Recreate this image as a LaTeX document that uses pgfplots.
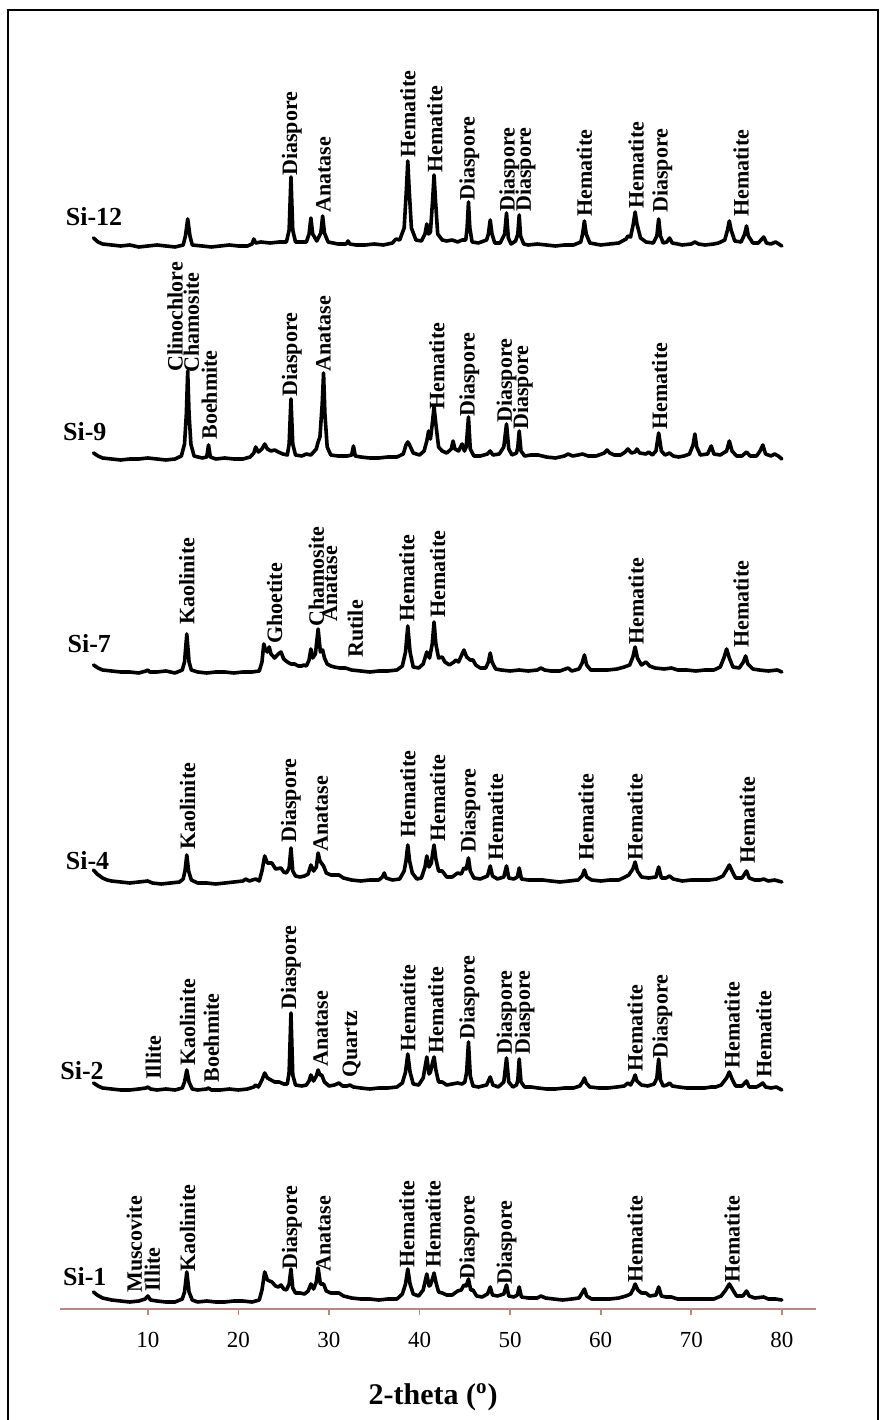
\documentclass[border=0pt]{standalone}
\usepackage{fontspec}
\setmainfont{Liberation Serif}
\usepackage{pgfplots}
\usepackage{pgfplotstable}
\pgfplotsset{compat=1.18}
\definecolor{axiscol}{RGB}{185,135,125}
\tikzset{
  lbl/.style={rotate=90, anchor=west, inner sep=0pt, font=\bfseries\fontsize{11}{11}\selectfont},
  sname/.style={anchor=west, inner sep=0pt, font=\bfseries\fontsize{13}{13}\selectfont},
  xrd/.style={black, line width=1.8pt, line join=round, line cap=round, mark=none},
}

\pgfplotstableread{
x y
4.0 8
4.5 4
5.0 2
6 1
7 0
8 1
9 -1
10 0
11 1
12 0
13 -1
13.9 1
14.15 10
14.4 27
14.65 10
14.9 1
16 0
17 -1
18 0
19 1
20 0
21 0
21.5 2
21.7 7
21.9 3
22.5 4
23.5 3
24.5 4
25.3 4
25.6 16
25.8 69
26.0 16
26.3 4
27.5 4
27.8 12
28.0 28
28.2 12
28.65 5
29.1 13
29.3 30
29.5 13
29.9 4
31 2
31.9 2
32.1 5
32.3 2
33 1
34 1
35 2
36 1
37 3
37.4 7
37.8 6
38.3 18
38.55 57
38.7 85
38.85 57
39.1 18
39.6 6
40.2 5
40.6 12
40.8 22
41.0 12
41.2 14
41.45 47
41.6 71
41.75 47
42.0 12
42.5 6
43 5
43.6 6
44.2 4
44.7 6
45.1 6
45.25 18
45.4 44
45.55 18
45.8 4
46.5 3
47.4 6
47.6 12
47.8 26
48.0 12
48.3 3
48.9 3
49.4 12
49.6 33
49.8 8
50.1 2
50.6 5
50.85 12
51.0 31
51.15 10
51.5 2
52 1
53 2
54 1
55 0
56 1
57 1
57.8 4
58.0 12
58.2 25
58.4 12
58.8 3
60 1
61 2
62 3
62.8 7
63.0 10
63.3 9
63.6 22
63.8 34
64.0 22
64.4 8
65 4
65.8 3
66.2 10
66.4 27
66.6 10
66.9 3
67.3 4
67.6 8
67.9 3
68.5 2
69 1
70 2
70.4 4
70.8 2
71.5 1
72.5 2
73 3
73.7 6
74.0 16
74.2 25
74.4 16
74.8 5
75.5 4
75.9 12
76.1 20
76.3 10
76.8 3
77.4 3
77.8 7
78.0 9
78.3 3
78.8 2
79.3 4
79.5 3
80.0 0
}\siL

\pgfplotstableread{
x y
4.0 6
4.5 3
5.0 1
6 0
7 -1
8 0
9 0
10 1
11 0
12 -1
13 0
13.7 3
14.05 15
14.25 45
14.4 88
14.55 45
14.75 15
15.1 3
16 1
16.5 2
16.7 14
16.9 2
17.5 0
18.5 1
19.5 0
20.5 0
21.3 2
21.7 6
21.9 12
22.2 7
22.6 10
22.9 15
23.2 10
23.6 8
24.0 9
24.4 7
24.9 5
25.4 4
25.6 15
25.8 60
26.0 15
26.3 4
27 3
27.5 5
28.0 4
28.3 7
28.6 10
28.8 17
29.0 22
29.25 55
29.4 86
29.55 45
29.8 12
30.2 4
31 3
32 3
32.5 4
32.7 13
32.9 3
33.5 2
34.5 1
35.5 1
36.5 2
37.5 2
38.2 5
38.5 14
38.7 17
38.9 14
39.3 6
40.0 4
40.5 8
40.8 18
41.0 28
41.2 20
41.4 35
41.6 52
41.8 35
42.1 12
42.5 8
43.0 6
43.5 10
43.7 18
43.9 10
44.3 8
44.7 15
44.95 8
45.15 12
45.4 42
45.6 10
46.0 3
46.7 3
47.5 5
47.8 8
48.1 4
48.8 5
49.3 12
49.6 35
49.85 10
50.2 4
50.7 6
50.85 12
51.0 28
51.2 8
51.6 3
52.3 4
53.1 4
54 2
55 1
56 3
56.4 5
56.9 3
57.5 4
58 5
58.6 3
59.5 3
60.4 6
60.7 9
61.0 6
61.5 4
62.2 4
62.7 7
63.0 10
63.4 6
63.8 7
64.0 10
64.3 6
65.0 5
65.3 7
65.7 4
66.1 8
66.4 26
66.7 8
67.1 4
67.6 6
68.0 3
68.6 2
69.2 3
69.8 5
70.2 14
70.4 25
70.6 12
71.0 4
71.8 5
72.2 13
72.5 5
73.2 4
73.9 8
74.2 18
74.5 8
75 3
75.6 3
76.1 7
76.5 3
77.2 3
77.6 8
77.9 14
78.2 5
78.8 3
79.2 5
79.6 3
80.0 0
}\siIX

\pgfplotstableread{
x y
4.0 7
4.5 4
5.0 2
6 1
7 0
8 0
9 -1
9.8 1
10.0 2
10.2 0
11 0
12 1
13 -1
13.8 2
14.05 10
14.3 38
14.55 10
14.8 2
15.5 0
16.5 -1
17.5 0
18.5 0
19.5 -1
20.5 0
21.5 0
22.3 1
22.6 10
22.8 28
23.0 22
23.2 20
23.4 25
23.6 18
24.0 14
24.4 18
24.7 20
25.0 13
25.4 10
25.8 8
26.2 8
26.6 6
27.0 6
27.2 7
27.5 6
27.8 12
28.0 23
28.2 14
28.5 18
28.8 43
29.05 20
29.3 22
29.5 14
29.8 8
30.2 6
30.6 5
31.2 4
31.8 4
32.5 2
33.5 1
34.5 0
35.5 1
36.5 1
37.5 2
38.1 6
38.45 20
38.7 46
38.95 20
39.3 5
39.9 4
40.4 8
40.8 20
41.1 14
41.4 28
41.6 50
41.8 28
42.1 14
42.5 15
42.8 10
43.3 7
43.8 10
44.0 12
44.3 10
44.7 18
44.9 22
45.2 15
45.6 12
45.9 12
46.2 7
46.7 4
47.3 4
47.6 10
47.8 19
48.0 10
48.4 3
49 2
50 1
51 2
52 1
53 2
53.4 4
53.8 2
54.5 1
55.5 1
56.4 4
56.8 1
57.6 3
57.95 9
58.2 17
58.45 7
58.9 2
59.8 2
60.8 2
61.8 3
62.6 5
63.2 7
63.55 15
63.8 25
64.05 14
64.5 7
65.0 10
65.4 6
66 4
67 3
67.8 4
68.5 2
69.5 2
70.5 1
71.5 2
72.5 2
73.2 5
73.6 14
73.9 23
74.2 14
74.6 5
75.3 4
75.75 10
76.0 16
76.25 8
76.8 3
77.5 2
78.5 1
79.5 2
80.0 0
}\siVII

\pgfplotstableread{
x y
4.0 13
4.4 9
5.0 5
5.5 3
6 2
7 1
8 0
9 1
10 2
10.5 0
11.5 -1
12.5 0
13.5 1
13.9 4
14.1 12
14.3 28
14.5 12
14.8 3
15.5 0
16.5 0
17.5 -1
18.5 0
19.5 1
20.5 2
20.8 4
21.2 2
21.9 4
22.3 2
22.6 12
22.9 27
23.2 20
23.7 20
24.1 14
24.7 15
25.0 11
25.3 10
25.6 15
25.8 35
26.0 12
26.3 7
26.8 6
27.3 7
27.7 9
28.0 18
28.3 12
28.6 16
28.8 30
29.0 22
29.4 17
29.7 10
30.2 8
31.1 8
31.6 5
32.5 3
33.5 2
34.5 3
35.5 3
35.9 6
36.1 10
36.3 5
37 3
37.8 4
38.3 12
38.5 22
38.7 38
38.9 22
39.2 10
39.7 4
40.2 5
40.6 16
40.8 27
41.05 16
41.3 20
41.45 30
41.6 38
41.8 24
42.1 12
42.5 12
43 6
43.6 6
44.2 10
44.6 9
44.9 15
45.15 14
45.4 25
45.6 12
46.0 5
46.7 4
47.5 7
47.8 17
48.05 7
48.6 4
49.3 6
49.6 17
49.85 5
50.4 4
50.8 6
51.0 15
51.25 4
52 3
53 3
53.6 3
54.5 2
55.5 1
56.5 2
57.5 3
57.95 7
58.2 13
58.45 6
59 3
60 2
61 3
62 3
62.7 6
63.1 8
63.55 14
63.8 21
64.05 12
64.5 6
65.3 5
66.1 6
66.4 16
66.7 5
67.2 5
67.6 7
68.0 4
69 2
70 3
71 3
72 3
72.8 4
73.5 7
73.9 13
74.2 18
74.5 12
74.9 5
75.6 5
76.1 12
76.4 5
77 3
77.6 3
78 4
78.5 2
79.2 3
80.0 1
}\siIV

\pgfplotstableread{
x y
4.0 7
4.5 4
5.0 2
6 1
7 0
8 0
9 1
9.8 2
10.0 3
10.3 1
11 0
12 1
13 0
13.8 2
14.05 8
14.3 20
14.55 8
14.9 1
15.5 0
16.5 1
16.7 2
17.0 0
18 0
19 1
20 0
21 1
21.7 3
21.9 5
22.2 3
22.6 10
22.9 17
23.2 12
23.6 10
24.0 8
24.5 8
25.0 6
25.4 6
25.6 18
25.8 77
26.0 15
26.3 5
27.0 4
27.5 5
27.8 9
28.0 15
28.3 9
28.6 14
28.8 20
29.0 15
29.2 15
29.5 8
30.0 4
30.6 5
31.1 7
31.5 4
32.0 4
32.3 5
32.7 3
33.5 2
34.5 1
35.5 2
36.5 2
37.5 3
38.1 7
38.45 18
38.7 36
38.95 18
39.3 6
39.9 5
40.4 12
40.8 33
41.05 16
41.2 18
41.45 28
41.6 33
41.8 20
42.1 8
42.5 8
43 5
43.6 6
44.2 7
44.7 6
45.0 8
45.2 18
45.4 48
45.6 14
45.9 4
46.5 3
47.4 5
47.8 13
48.1 5
48.7 3
49.3 8
49.6 32
49.85 8
50.3 3
50.7 5
50.85 10
51.0 31
51.2 8
51.6 3
52.3 3
53.1 2
54 1
55 1
56 2
57 2
57.7 4
58.0 8
58.2 12
58.4 7
58.8 3
59.8 2
60.8 2
61.8 3
62.6 4
63.0 7
63.3 5
63.6 10
63.8 15
64.0 9
64.5 5
65.2 4
65.9 6
66.2 12
66.4 31
66.6 10
66.9 4
67.3 5
67.6 7
67.9 4
68.6 3
69.5 2
70.5 2
71.5 2
72.2 3
72.7 3
73.3 5
73.9 12
74.2 18
74.5 11
74.9 4
75.6 4
76.1 9
76.4 3
77.2 3
77.6 5
77.9 7
78.2 3
78.8 2
79.4 3
80.0 0
}\siII

\pgfplotstableread{
x y
4.0 10
4.4 7
5.0 4
5.5 3
6 2
7 1
8 0
9 1
9.7 3
10.0 6
10.3 2
11 1
12 0
13 0
13.8 3
14.05 10
14.3 30
14.55 10
14.9 2
15.5 0
16.5 1
17.5 0
18.5 0
19.5 1
20.5 1
21.5 0
22.3 2
22.6 12
22.9 30
23.2 22
23.7 20
24.1 16
24.4 15
24.7 17
25.0 13
25.3 12
25.6 18
25.8 33
26.0 14
26.3 9
26.8 9
27.3 8
27.7 11
28.0 18
28.3 13
28.6 20
28.8 34
29.05 18
29.4 18
29.7 11
30.2 9
31.1 9
31.6 6
32.5 4
33.5 3
34.5 3
35.5 2
36.5 3
37.5 3
38.1 8
38.45 18
38.7 33
38.95 18
39.3 8
39.9 6
40.4 12
40.8 28
41.05 16
41.2 17
41.45 24
41.6 29
41.8 20
42.1 10
42.5 9
43 7
43.6 7
44.2 11
44.6 12
44.9 17
45.15 16
45.4 23
45.65 12
45.9 12
46.3 6
46.9 5
47.5 8
47.8 15
48.05 7
48.6 6
49.3 8
49.6 17
49.85 6
50.4 5
50.8 7
51.0 15
51.25 5
52 4
53 4
53.4 6
53.9 4
54.8 3
55.8 2
56.8 3
57.6 4
57.95 9
58.2 13
58.45 6
59 3
60 3
61 3
62 4
62.8 6
63.3 8
63.6 13
63.8 18
64.1 12
64.5 9
65.0 9
65.4 6
66.1 7
66.4 15
66.7 6
67.2 5
67.8 5
68.5 3
69.5 3
70.5 3
71.5 3
72.5 3
73.3 6
73.8 12
74.2 18
74.6 12
75.0 6
75.7 6
76.1 11
76.4 6
77 4
78 5
78.5 3
79.3 3
80.0 2
}\siI

\newcommand{\lab}[3]{\node[lbl] at (axis cs:#1,#2) {#3};}
\newcommand{\sname}[3]{\node[sname] at (axis cs:#1,#2) {#3};}

\begin{document}
\begin{tikzpicture}
\useasboundingbox (0,0) rectangle (443pt,710pt);
\draw[line width=1.3pt] (4pt,-2pt) -- (4pt,705pt) -- (439pt,705pt) -- (439pt,-2pt);
\begin{axis}[
  at={(30pt,55.5pt)}, anchor=south west,
  x=4.5285pt, y=0.5pt,
  xmin=0.3, xmax=83.75, ymin=0, ymax=1300,
  clip=false,
  hide y axis,
  axis x line*=bottom,
  x axis line style={color=axiscol, line width=1pt},
  xtick={10,20,...,80},
  tick style={color=axiscol, line width=0.8pt},
  tick align=outside,
  major tick length=3pt,
  xticklabel style={font=\fontsize{11.5}{12}\selectfont, text=black, yshift=-5pt},
  /pgf/number format/assume math mode=true,
]
\addplot[xrd] table[x=x, y expr=\thisrow{y}+1063] {\siL};
\addplot[xrd] table[x=x, y expr=\thisrow{y}+850] {\siIX};
\addplot[xrd] table[x=x, y expr=\thisrow{y}+637] {\siVII};
\addplot[xrd] table[x=x, y expr=\thisrow{y}+426] {\siIV};
\addplot[xrd] table[x=x, y expr=\thisrow{y}+219] {\siII};
\addplot[xrd] table[x=x, y expr=\thisrow{y}+7] {\siI};

\sname{0.9}{1092}{Si-12}
\sname{0.6}{877}{Si-9}
\sname{1.1}{665}{Si-7}
\sname{0.9}{448}{Si-4}
\sname{0.3}{238}{Si-2}
\sname{0.6}{32}{Si-1}

% Si-12
\lab{25.9}{1133}{Diaspore}
\lab{29.4}{1096}{Anatase}
\lab{38.7}{1151}{Hematite}
\lab{41.7}{1136}{Hematite}
\lab{45.5}{1108}{Diaspore}
\lab{49.9}{1097}{Diaspore}
\lab{51.7}{1097}{Diaspore}
\lab{58.2}{1092}{Hematite}
\lab{63.9}{1100}{Hematite}
\lab{66.8}{1096}{Diaspore}
\lab{75.5}{1092}{Hematite}
% Si-9
\lab{13.0}{937}{Clinochlore}
\lab{14.8}{936}{Chamosite}
\lab{16.8}{869}{Boehmite}
\lab{25.9}{912}{Diaspore}
\lab{29.4}{937}{Anatase}
\lab{41.9}{899}{Hematite}
\lab{45.5}{892}{Diaspore}
\lab{49.6}{886}{Diaspore}
\lab{51.4}{879}{Diaspore}
\lab{66.5}{879}{Hematite}
% Si-7
\lab{14.3}{684}{Kaolinite}
\lab{24.0}{665}{Ghoetite}
\lab{28.6}{682}{Chamosite}
\lab{30.1}{687}{Anatase}
\lab{32.9}{651}{Rutile}
\lab{38.6}{687}{Hematite}
\lab{42.0}{691}{Hematite}
\lab{63.9}{664}{Hematite}
\lab{75.5}{661}{Hematite}
% Si-4
\lab{14.4}{459}{Kaolinite}
\lab{25.8}{466}{Diaspore}
\lab{29.1}{457}{Anatase}
\lab{38.7}{471}{Hematite}
\lab{42.0}{467}{Hematite}
\lab{45.6}{456}{Diaspore}
\lab{48.4}{448}{Hematite}
\lab{58.4}{448}{Hematite}
\lab{63.8}{448}{Hematite}
\lab{76.2}{445}{Hematite}
% Si-2
\lab{10.6}{229}{Illite}
\lab{14.4}{243}{Kaolinite}
\lab{17.0}{226}{Boehmite}
\lab{25.8}{299}{Diaspore}
\lab{29.1}{242}{Anatase}
\lab{32.5}{231}{Quartz}
\lab{38.7}{257}{Hematite}
\lab{41.8}{255}{Hematite}
\lab{45.5}{269}{Diaspore}
\lab{49.6}{254}{Diaspore}
\lab{51.6}{254}{Diaspore}
\lab{63.8}{237}{Hematite}
\lab{66.8}{250}{Diaspore}
\lab{74.5}{240}{Hematite}
\lab{78.0}{231}{Hematite}
% Si-1
\lab{8.5}{16}{Muscovite}
\lab{10.5}{17}{Illite}
\lab{14.4}{37}{Kaolinite}
\lab{25.9}{39}{Diaspore}
\lab{29.4}{37}{Anatase}
\lab{38.6}{41}{Hematite}
\lab{41.5}{41}{Hematite}
\lab{45.5}{29}{Diaspore}
\lab{49.6}{24}{Diaspore}
\lab{63.8}{26}{Hematite}
\lab{74.5}{26}{Hematite}

\node[font=\bfseries\fontsize{15}{15}\selectfont] at (axis cs:41.5,-88) {2-theta (\textsuperscript{o})};
\end{axis}
\end{tikzpicture}
\end{document}
